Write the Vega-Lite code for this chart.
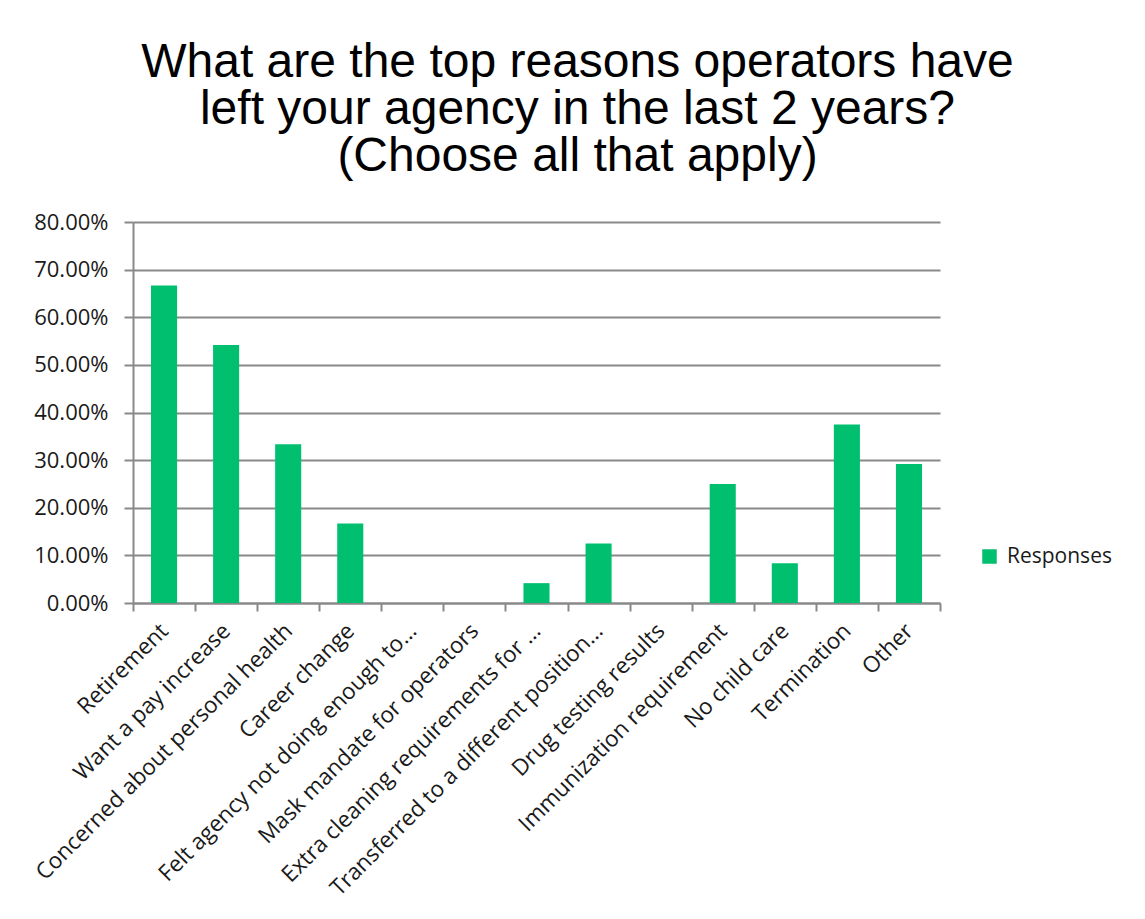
{
  "$schema": "https://vega.github.io/schema/vega-lite/v6.json",
  "autosize": {"type": "none"},
  "padding": {"left": 133, "top": 222, "right": 205, "bottom": 316},
  "width": 807,
  "height": 381,
  "background": "white",
  "title": {
    "text": ["What are the top reasons operators have", "left your agency in the last 2 years?", "(Choose all that apply)"],
    "font": "Liberation Sans",
    "fontSize": 48,
    "fontWeight": "normal",
    "lineHeight": 47,
    "color": "#000000",
    "anchor": "middle",
    "frame": "group",
    "dx": 41,
    "offset": 30
  },
  "data": {
    "values": [
      {"reason": "Retirement", "value": 0.6667, "series": "Responses"},
      {"reason": "Want a pay increase", "value": 0.5417, "series": "Responses"},
      {"reason": "Concerned about personal health", "value": 0.3333, "series": "Responses"},
      {"reason": "Career change", "value": 0.1667, "series": "Responses"},
      {"reason": "Felt agency not doing enough to…", "value": 0, "series": "Responses"},
      {"reason": "Mask mandate for operators", "value": 0, "series": "Responses"},
      {"reason": "Extra cleaning requirements for …", "value": 0.0417, "series": "Responses"},
      {"reason": "Transferred to a different position…", "value": 0.125, "series": "Responses"},
      {"reason": "Drug testing results", "value": 0, "series": "Responses"},
      {"reason": "Immunization requirement", "value": 0.25, "series": "Responses"},
      {"reason": "No child care", "value": 0.0833, "series": "Responses"},
      {"reason": "Termination", "value": 0.375, "series": "Responses"},
      {"reason": "Other", "value": 0.2917, "series": "Responses"}
    ]
  },
  "mark": {"type": "bar", "width": {"band": 0.42}},
  "encoding": {
    "x": {
      "field": "reason",
      "type": "nominal",
      "sort": null,
      "title": null,
      "scale": {"paddingInner": 0, "paddingOuter": 0},
      "axis": {
        "labelAngle": -45,
        "labelAlign": "right",
        "labelBaseline": "middle",
        "labelFont": "Open Sans",
        "labelFontSize": 22.5,
        "labelColor": "#1a1a1a",
        "labelPadding": 16,
        "labelLimit": 500,
        "tickBand": "extent",
        "tickSize": 8,
        "tickColor": "#898989",
        "tickWidth": 2,
        "domainColor": "#898989",
        "domainWidth": 2,
        "grid": false
      }
    },
    "y": {
      "field": "value",
      "type": "quantitative",
      "title": null,
      "scale": {"domain": [0, 0.8], "nice": false},
      "axis": {
        "values": [0, 0.1, 0.2, 0.3, 0.4, 0.5, 0.6, 0.7, 0.8],
        "format": ".2%",
        "labelFont": "Open Sans",
        "labelFontSize": 22,
        "labelColor": "#1a1a1a",
        "labelPadding": 16,
        "tickSize": 9,
        "tickColor": "#898989",
        "tickWidth": 2,
        "domainColor": "#898989",
        "domainWidth": 2,
        "grid": true,
        "gridColor": "#898989",
        "gridWidth": 2
      }
    },
    "color": {
      "field": "series",
      "type": "nominal",
      "scale": {"range": ["#00BF6F"]},
      "legend": {
        "title": null,
        "orient": "none",
        "legendX": 846,
        "legendY": 324,
        "symbolType": "square",
        "symbolSize": 210,
        "symbolStrokeWidth": 0,
        "labelFont": "Open Sans",
        "labelFontSize": 21,
        "labelColor": "#1a1a1a",
        "labelOffset": 7
      }
    }
  },
  "config": {
    "view": {"stroke": null}
  }
}
